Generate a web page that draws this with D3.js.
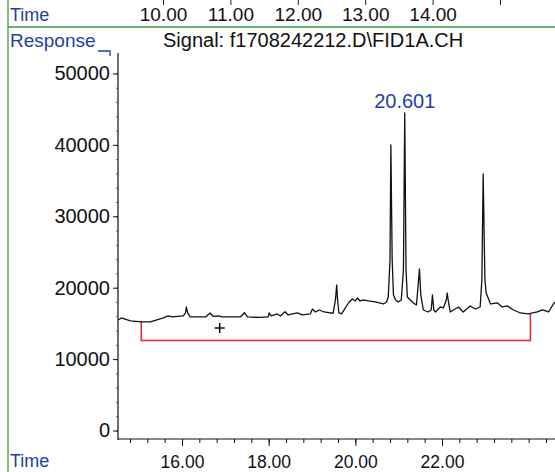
<!DOCTYPE html>
<html><head><meta charset="utf-8">
<script src="https://cdn.jsdelivr.net/npm/d3@7"></script>
<style>
html,body{margin:0;padding:0;background:#fff;}
svg{display:block;font-family:"Liberation Sans",Arial,sans-serif;}
</style></head>
<body>
<svg id="c" width="555" height="472"></svg>
<script>
// ---- data ----
const times = [14.53,14.60,14.81,15.06,15.27,15.57,15.68,15.77,16.03,16.08,16.10,16.13,16.19,16.54,16.65,16.72,16.84,16.93,17.11,17.35,17.44,17.51,17.81,17.99,18.01,18.06,18.20,18.27,18.38,18.45,18.66,18.78,18.96,19.01,19.08,19.17,19.28,19.42,19.49,19.54,19.57,19.59,19.62,19.68,19.77,19.84,19.93,20.00,20.05,20.11,20.18,20.30,20.46,20.65,20.72,20.76,20.80,20.82,20.85,20.88,20.93,20.99,21.06,21.11,21.14,21.17,21.20,21.27,21.34,21.41,21.44,21.48,21.51,21.57,21.68,21.75,21.78,21.81,21.85,21.96,22.03,22.10,22.12,22.16,22.19,22.26,22.38,22.49,22.65,22.77,22.88,22.92,22.95,22.99,23.02,23.12,23.28,23.39,23.51,23.65,23.81,23.99,24.20,24.32,24.46,24.57,24.61];
const response = [15480,15760,15340,15200,15200,15760,16040,15900,16040,16460,17300,16460,15900,15900,16460,15970,16040,15900,15900,15900,16500,15900,15830,15900,16460,16040,16320,16040,16640,16180,16460,16180,16320,17020,16600,16880,16600,16460,16460,18280,20380,18280,16460,16320,17160,17860,18420,18140,18560,18140,18280,18140,18000,17720,18000,18700,23880,39990,23880,18980,18280,18000,18280,22480,44470,22480,18700,18280,17860,17580,19680,22620,18980,16880,16600,16880,18980,16880,16600,17300,17160,18280,19260,17580,16600,16880,17300,16600,17440,17020,17300,21080,35930,21080,19260,17720,17860,17300,17440,16880,16460,16320,16600,16880,16600,17720,18000];
const baselineTimes = [15.06,15.06,24.04,24.04];
const baselineValues = [15200,12600,12600,16300];
const markerTimes = [16.87];
const markerValues = [14350];
const peakTimes = [21.14];
const peakValues = [44470];
const peakLabels = ["20.601"];
const yTicks = [0,10000,20000,30000,40000,50000];
const yMinorTicks = d3.range(0,50001,2000);
const xTicks = [16,18,20,22];
const xMinorTicks = d3.range(14.8,24.61,0.4);
const topTicks = [10,11,12,13,14,15];
const topTickLabels = ["10.00","11.00","12.00","13.00","14.00",""];
const title = "Signal: f1708242212.D\\FID1A.CH";

// ---- drawing ----
const svg = d3.select("#c");
const blue = "#1f3ea6", green = "#3d9b46", red = "#e3262b";

const x = d3.scaleLinear().domain([16,22]).range([182,442]);
const y = d3.scaleLinear().domain([0,50000]).range([430.5,73.5]);
const xTop = d3.scaleLinear().domain([10,15]).range([163,500]);

// green frame lines
svg.append("line").attr("x1",8).attr("x2",8).attr("y1",0).attr("y2",472).attr("stroke",green).attr("stroke-width",1.3);
svg.append("line").attr("x1",8).attr("x2",555).attr("y1",27).attr("y2",27).attr("stroke",green).attr("stroke-width",1.3);

// top time axis
const gTop = svg.append("g").attr("transform","translate(0,0)")
  .call(d3.axisBottom(xTop).tickValues(topTicks).tickSize(5).tickPadding(2.5)
    .tickFormat((d,i)=>topTickLabels[i]));
gTop.select(".domain").remove();
gTop.selectAll("text").attr("font-size",19).attr("fill","#111").attr("font-family","Liberation Sans, Arial");
gTop.selectAll("line").attr("stroke","#222");

svg.append("text").attr("x",10).attr("y",21).attr("fill",blue).attr("font-size",18).text("Time");
svg.append("text").attr("x",10).attr("y",47).attr("fill",blue).attr("font-size",19).text("Response");
svg.append("text").attr("x",10).attr("y",467).attr("fill",blue).attr("font-size",18).text("Time");
svg.append("text").attr("x",163).attr("y",47).attr("fill","#111").attr("font-size",20).text(title);

// y axis
svg.append("line").attr("x1",118).attr("x2",118).attr("y1",53).attr("y2",440).attr("stroke","#111").attr("stroke-width",1.2);
svg.append("path").attr("d","M98,51H110V56").attr("fill","none").attr("stroke",blue).attr("stroke-width",1.3);
const gyMinor = svg.append("g").attr("transform","translate(118,0)")
  .call(d3.axisLeft(y).tickValues(yMinorTicks).tickSize(2).tickFormat(""));
gyMinor.select(".domain").remove();
gyMinor.selectAll("line").attr("stroke","#555");
const gy = svg.append("g").attr("transform","translate(118,0)")
  .call(d3.axisLeft(y).tickValues(yTicks).tickSize(5).tickPadding(3).tickFormat(d3.format("d")));
gy.select(".domain").remove();
gy.selectAll("text").attr("font-size",20).attr("fill","#111").attr("font-family","Liberation Sans, Arial");
gy.selectAll("line").attr("stroke","#111");

// x axis
svg.append("line").attr("x1",118).attr("x2",555).attr("y1",439).attr("y2",439).attr("stroke","#111").attr("stroke-width",1.2);
const gxMinor = svg.append("g").attr("transform","translate(0,439)")
  .call(d3.axisBottom(x).tickValues(xMinorTicks).tickSize(4).tickFormat(""));
gxMinor.select(".domain").remove();
gxMinor.selectAll("line").attr("stroke","#111");
const gx = svg.append("g").attr("transform","translate(0,439)")
  .call(d3.axisBottom(x).tickValues(xTicks).tickSize(7).tickFormat(d3.format(".2f")));
gx.select(".domain").remove();
gx.selectAll("line").attr("stroke","#111");
gx.selectAll("text").attr("font-size",17.5).attr("fill","#111").attr("font-family","Liberation Sans, Arial")
  .attr("y",29).attr("dy",0);

// integration baseline (red)
const bl = baselineTimes.map((t,i)=>[t,baselineValues[i]]);
svg.append("path").attr("d",d3.line().x(d=>x(d[0])).y(d=>y(d[1]))(bl))
  .attr("fill","none").attr("stroke",red).attr("stroke-width",1.5);

// signal trace
const pts = times.map((t,i)=>[t,response[i]]);
svg.append("path").attr("d",d3.line().x(d=>x(d[0])).y(d=>y(d[1]))(pts))
  .attr("fill","none").attr("stroke","#111").attr("stroke-width",1.3).attr("stroke-linejoin","round");

// plus marker
markerTimes.forEach((t,i)=>{
  const cx = x(t), cy = y(markerValues[i]);
  svg.append("path").attr("d",`M${cx-5},${cy}H${cx+5}M${cx},${cy-5}V${cy+5}`)
    .attr("fill","none").attr("stroke","#111").attr("stroke-width",1.6);
});

// peak label
peakTimes.forEach((t,i)=>{
  svg.append("text").attr("x",x(t)).attr("y",y(peakValues[i])-5).attr("text-anchor","middle")
    .attr("fill",blue).attr("font-size",20).text(peakLabels[i]);
});
</script>
</body></html>
